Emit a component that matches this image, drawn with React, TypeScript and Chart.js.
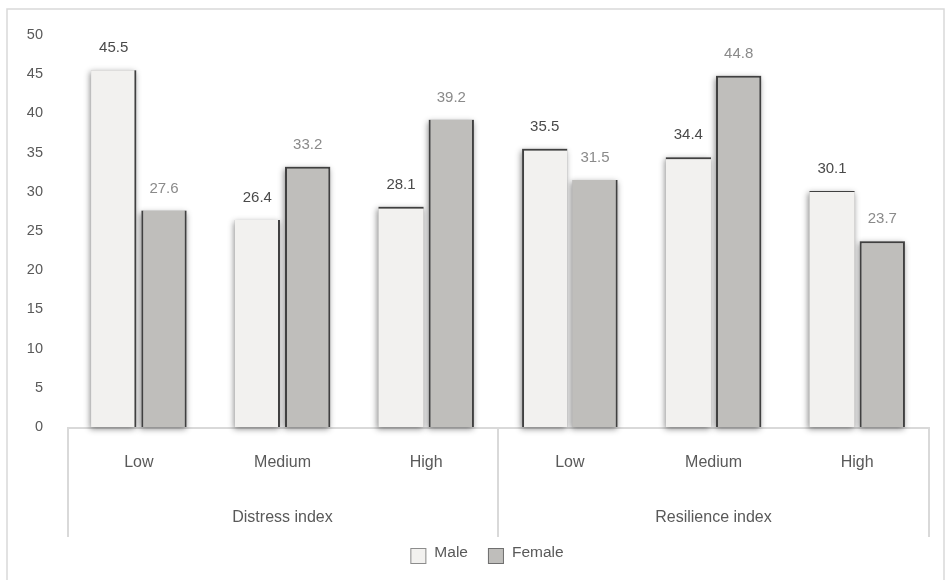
import React, { useEffect, useRef } from "react";
import { Chart, registerables } from "chart.js";

Chart.register(...registerables);

// Category labels (inner row) and the index groups they belong to (outer row)
const categories = ["Low", "Medium", "High", "Low", "Medium", "High"];
const groups = ["Distress index", "Resilience index"];
const groupSize = 3;

// Percentages by sex
const seriesNames = ["Male", "Female"];
const maleValues = [45.5, 26.4, 28.1, 35.5, 34.4, 30.1];
const femaleValues = [27.6, 33.2, 39.2, 31.5, 44.8, 23.7];

// Value axis
const yMax = 50;
const yStep = 5;

const FONT = "'Liberation Sans', Arial, sans-serif";
const TEXT = "#595959";
const LINE = "#d9d9d9";
const EDGE = "#404040";

const maleFill = "#f2f1ef";
const femaleFill = "#bfbebb";
const maleBoxStroke = "#8c8c8c";
const femaleBoxStroke = "#6f6f6f";

// Bevel-like dark edges on individual bars
const maleEdges = [
  { right: 2 },
  { right: 2 },
  { top: 2 },
  { left: 2, top: 2 },
  { top: 2 },
  { top: 1 },
];
const femaleEdges = [
  { left: 2, right: 2 },
  { left: 2, right: 2, top: 2 },
  { left: 2, right: 2 },
  { right: 2 },
  { left: 2, right: 2, top: 2 },
  { left: 2, right: 2, top: 2 },
];

const decorPlugin = {
  id: "decor",
  beforeDraw(chart: any) {
    const { ctx } = chart;
    ctx.save();
    ctx.fillStyle = "#ffffff";
    ctx.fillRect(0, 0, chart.width, chart.height);
    ctx.strokeStyle = LINE;
    ctx.lineWidth = 1.5;
    ctx.beginPath();
    ctx.moveTo(7, chart.height);
    ctx.lineTo(7, 9);
    ctx.lineTo(944, 9);
    ctx.lineTo(944, chart.height);
    ctx.stroke();
    ctx.restore();
  },
  beforeDatasetsDraw(chart: any) {
    const { ctx, chartArea, scales } = chart;
    const x = scales.x;
    const base = chartArea.bottom + 1;
    const lineBottom = chartArea.bottom + 110;
    ctx.save();
    ctx.strokeStyle = LINE;
    ctx.lineWidth = 2;
    ctx.beginPath();
    ctx.moveTo(chartArea.left, base);
    ctx.lineTo(chartArea.right + 1, base);
    // separators between groups and at the outer ends
    const step = x.getPixelForValue(1) - x.getPixelForValue(0);
    for (let g = 0; g <= groups.length; g++) {
      const idx = g * groupSize;
      const px = x.getPixelForValue(0) - step / 2 + idx * step;
      const clamped = Math.min(Math.max(px, chartArea.left + 1), chartArea.right + 1);
      ctx.moveTo(clamped, base);
      ctx.lineTo(clamped, lineBottom);
    }
    ctx.stroke();
    ctx.restore();

    // soft drop shadow behind each bar
    ctx.save();
    ctx.shadowColor = "rgba(0,0,0,0.45)";
    ctx.shadowBlur = 6;
    ctx.shadowOffsetX = -1;
    ctx.shadowOffsetY = 2;
    ctx.fillStyle = "#bbbbbb";
    chart.data.datasets.forEach((_ds: any, di: number) => {
      const meta = chart.getDatasetMeta(di);
      meta.data.forEach((bar: any) => {
        const p = bar.getProps(["x", "y", "base", "width"], true);
        ctx.fillRect(p.x - p.width / 2, p.y, p.width, p.base - p.y);
      });
    });
    ctx.restore();
  },
  afterDatasetsDraw(chart: any) {
    const { ctx, chartArea, scales } = chart;
    const x = scales.x;

    // value labels above the bars
    ctx.save();
    ctx.font = `15px ${FONT}`;
    ctx.textAlign = "center";
    ctx.textBaseline = "middle";
    chart.data.datasets.forEach((ds: any, di: number) => {
      const meta = chart.getDatasetMeta(di);
      ctx.fillStyle = di === 0 ? "#4a4a4a" : "#8a8a8a";
      meta.data.forEach((bar: any, i: number) => {
        ctx.fillText(ds.data[i].toFixed(1), bar.x, bar.y - 22);
      });
    });

    // inner category row
    ctx.fillStyle = TEXT;
    ctx.font = `16px ${FONT}`;
    categories.forEach((c, i) => {
      ctx.fillText(c, x.getPixelForValue(i), chartArea.bottom + 36);
    });

    // outer group row
    groups.forEach((g, gi) => {
      const first = x.getPixelForValue(gi * groupSize);
      const last = x.getPixelForValue(gi * groupSize + groupSize - 1);
      ctx.fillText(g, (first + last) / 2, chartArea.bottom + 91);
    });

    // legend
    ctx.font = `15.5px ${FONT}`;
    ctx.textAlign = "left";
    const box = 16;
    const gapText = 8;
    const gapItem = 20;
    const widths = seriesNames.map((s) => box + gapText + ctx.measureText(s).width);
    const total = widths.reduce((a, b) => a + b, 0) + gapItem * (seriesNames.length - 1);
    let lx = 487 - total / 2;
    const ly = 556;
    const fills = [maleFill, femaleFill];
    const strokes = [maleBoxStroke, femaleBoxStroke];
    seriesNames.forEach((s, i) => {
      ctx.fillStyle = fills[i];
      ctx.fillRect(lx, ly - box / 2, box, box);
      ctx.strokeStyle = strokes[i];
      ctx.lineWidth = 1;
      ctx.strokeRect(lx + 0.5, ly - box / 2 + 0.5, box - 1, box - 1);
      ctx.fillStyle = TEXT;
      ctx.fillText(s, lx + box + gapText, ly - 3);
      lx += widths[i] + gapItem;
    });
    ctx.restore();
  },
};

export default function App() {
  const canvasRef = useRef<HTMLCanvasElement | null>(null);

  useEffect(() => {
    const canvas = canvasRef.current;
    if (!canvas) return;
    const chart = new Chart(canvas, {
      type: "bar",
      data: {
        labels: categories,
        datasets: [
          {
            label: seriesNames[0],
            data: maleValues,
            backgroundColor: maleFill,
            borderColor: EDGE,
            borderWidth: (c: any) => maleEdges[c.dataIndex] as any,
            borderSkipped: false,
            categoryPercentage: 0.7,
            barPercentage: 0.9,
          },
          {
            label: seriesNames[1],
            data: femaleValues,
            backgroundColor: femaleFill,
            borderColor: EDGE,
            borderWidth: (c: any) => femaleEdges[c.dataIndex] as any,
            borderSkipped: false,
            categoryPercentage: 0.7,
            barPercentage: 0.9,
          },
        ],
      },
      options: {
        animation: false,
        responsive: false,
        devicePixelRatio: 1,
        layout: { padding: { top: 35, right: 21, left: 0, bottom: 0 } },
        plugins: {
          legend: { display: false },
          tooltip: { enabled: false },
        },
        scales: {
          x: {
            grid: { display: false, drawTicks: false },
            border: { display: false },
            ticks: { display: false },
            afterFit: (s: any) => {
              s.height = 153;
            },
          },
          y: {
            min: 0,
            max: yMax,
            grid: { display: false, drawTicks: false },
            border: { display: false },
            ticks: {
              stepSize: yStep,
              padding: 24,
              color: TEXT,
              font: { family: FONT, size: 14.5 },
            },
            afterFit: (s: any) => {
              s.width = 67;
            },
          },
        },
      },
      plugins: [decorPlugin],
    });
    return () => chart.destroy();
  }, []);

  return (
    <div style={{ position: "fixed", left: 0, top: 0, width: 950, height: 580, background: "#fff" }}>
      <canvas ref={canvasRef} width={950} height={580} style={{ display: "block", width: 950, height: 580 }} />
    </div>
  );
}
